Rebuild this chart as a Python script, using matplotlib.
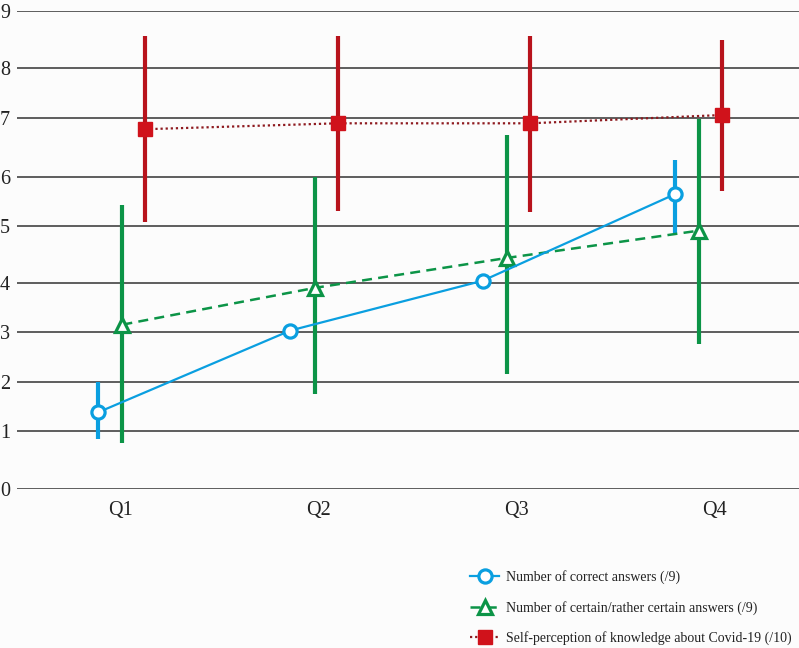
import numpy as np
import matplotlib
matplotlib.use("Agg")
import matplotlib.pyplot as plt

# Data
questions = ["Q1", "Q2", "Q3", "Q4"]

correct_mean = [1.38, 3.03, 4.04, 5.65]
correct_low = [0.86, np.nan, np.nan, 4.87]
correct_high = [1.99, np.nan, np.nan, 6.28]

certain_mean = [3.15, 3.90, 4.44, 4.92]
certain_low = [0.80, 1.76, 2.17, 2.77]
certain_high = [5.43, 6.00, 6.71, 6.98]

selfperc_mean = [6.81, 6.91, 6.91, 7.06]
selfperc_low = [5.09, 5.31, 5.29, 5.72]
selfperc_high = [8.56, 8.56, 8.56, 8.49]

y_ticks = list(range(10))
# the original gridlines are not evenly spaced: height (px) of each tick above 0
grid_heights = [0, 58, 107, 157, 206, 263, 312, 371, 421, 478]

BLUE = "#0a9fe0"
GREEN = "#0c9447"
RED = "#d0121b"
RED_BAR = "#b8131c"
RED_LINE = "#8e1a1f"

plt.rcParams['font.family'] = ['Liberation Serif', 'DejaVu Serif']


def fwd(v):
    return np.interp(v, y_ticks, grid_heights)


def inv(h):
    return np.interp(h, grid_heights, y_ticks)


fig = plt.figure(figsize=(7.99, 6.48), dpi=100, facecolor="#fcfcfc")
ax = fig.add_axes([17 / 799, 1 - 489 / 648, 1 - 17 / 799, (489 - 11) / 648])
ax.set_facecolor("#fcfcfc")
ax.set_yscale("function", functions=(fwd, inv))

x = np.arange(len(questions))
# series are dodged around each category, slightly compressed
squeeze = 0.97
x_blue = x * squeeze - 0.111
x_green = x * squeeze + 0.012
x_red = x * squeeze + 0.127

for v in y_ticks:
    ax.axhline(v, color="#333333", lw=1.1, zorder=1)

# error bars
ax.vlines(x_blue, correct_low, correct_high, color=BLUE, lw=3, zorder=3)
ax.vlines(x_green, certain_low, certain_high, color=GREEN, lw=3, zorder=3)
ax.vlines(x_red, selfperc_low, selfperc_high, color=RED_BAR, lw=3, zorder=3)

# series lines + markers
l_blue, = ax.plot(x_blue, correct_mean, color=BLUE, lw=1.6, marker="o", ms=9.5,
                  mfc="white", mec=BLUE, mew=2.3, zorder=5,
                  label="Number of correct answers (/9)")
l_green, = ax.plot(x_green, certain_mean, color=GREEN, lw=1.8, ls=(0, (4, 2.5)),
                   marker="^", ms=10, mfc="white", mec=GREEN, mew=2.3, zorder=4,
                   label="Number of certain/rather certain answers (/9)")
l_red, = ax.plot(x_red, selfperc_mean, color=RED_LINE, lw=1.6, ls=(0, (1, 1.3)),
                 marker="s", ms=10, mfc=RED, mec=RED, zorder=6,
                 label="Self-perception of knowledge about Covid-19 (/10)")

ax.set_xlim((17 - 120) / 198.3, (799 - 120) / 198.3)
ax.set_ylim(0, 9)
ax.set_yticks(y_ticks)
ax.set_xticks(x)
ax.set_xticklabels(questions)
ax.tick_params(axis="both", length=0, labelsize=14.5, colors="#222222")
ax.tick_params(axis="y", pad=5)
ax.tick_params(axis="x", pad=9)
for s in ax.spines.values():
    s.set_visible(False)

fig.legend(handles=[l_blue, l_green, l_red], loc="upper left",
           bbox_to_anchor=(470 / 799, 1 - 570 / 648), frameon=False,
           fontsize=10, handlelength=2.1, handletextpad=0.5,
           labelspacing=1.2, borderpad=0, borderaxespad=0,
           labelcolor="#222222")

fig.savefig("out.png", dpi=100, facecolor=fig.get_facecolor())
